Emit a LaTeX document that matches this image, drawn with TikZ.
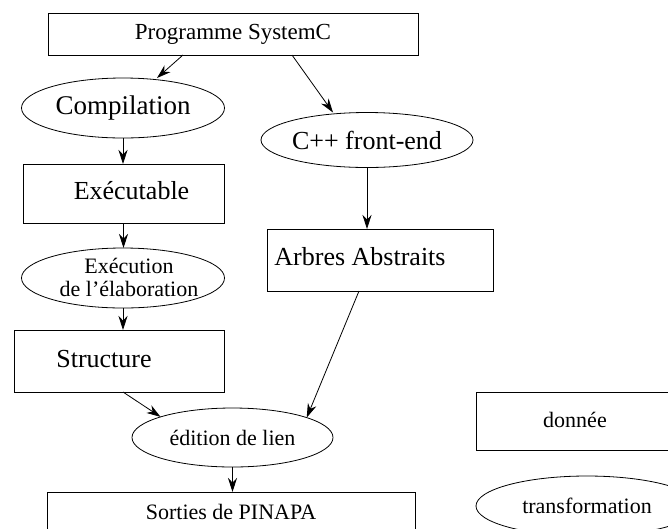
\documentclass[tikz,border=0pt]{standalone}
\usepackage{fontspec}
\setmainfont{Liberation Serif}
\usetikzlibrary{shapes.geometric,arrows.meta}
\begin{document}
\begin{tikzpicture}[x=1pt,y=-1pt,
  every node/.style={inner sep=0pt, outer sep=0pt},
  databox/.style={draw, rectangle, line width=0.8pt},
  process/.style={draw, ellipse, line width=0.8pt},
  fhuge/.style={font=\fontsize{27}{31}\selectfont},
  fbig/.style={font=\fontsize{26}{30}\selectfont},
  fmid/.style={font=\fontsize{23}{26}\selectfont},
  fsmall/.style={font=\fontsize{22}{23}\selectfont},
  arr/.style={line width=0.8pt, -{Stealth[length=14pt,width=9pt,inset=4.5pt]}}]
\useasboundingbox (0,0) rectangle (668,528);

% data (rectangles) and transformations (ellipses)
\node[databox, fmid, minimum width=370pt, minimum height=42pt] (prog) at (233,34) {Programme SystemC};
\node[process, fhuge, minimum width=203pt, minimum height=60pt] (comp) at (123,108) {Compilation};
\node[process, fbig, minimum width=203pt, minimum height=55pt] (cpp) at (367,140) {C++ front-end};
\node[databox, minimum width=201pt, minimum height=59pt,
      label={[fbig, shift={(8,-3)}]center:Exécutable}] (exe) at (123.5,193.5) {};
\node[databox, minimum width=226pt, minimum height=62pt,
      label={[fbig, shift={(-20,-3)}]center:Arbres Abstraits}] (arbres) at (380,260) {};
\node[process, minimum width=203pt, minimum height=60pt,
      label={[fsmall, align=center, shift={(6,-1)}]center:Exécution\\de l’élaboration}] (exel) at (123,278) {};
\node[databox, minimum width=210pt, minimum height=62pt,
      label={[fbig, shift={(-15,-2)}]center:Structure}] (struct) at (119,361) {};
\node[process, fsmall, minimum width=201pt, minimum height=59pt] (edl) at (232.5,437.5) {édition de lien};
\node[databox, minimum width=368pt, minimum height=50pt,
      label={[fsmall, shift={(0,-5)}]center:Sorties de PINAPA}] (sorties) at (231,517) {};

% legend
\node[databox, minimum width=230pt, minimum height=58pt,
      label={[fsmall, shift={(-16,-1)}]center:donnée}] (donnee) at (591,421) {};
\node[process, fsmall, minimum width=222pt, minimum height=60pt] (transf) at (587,506) {transformation};

% flow
\draw[arr] ([xshift=-50pt]prog.south) -- ([xshift=34pt]comp.north);
\draw[arr] ([xshift=59pt]prog.south) -- ([xshift=-34pt]cpp.north);
\draw[arr] (comp.south) -- (comp.south |- exe.north);
\draw[arr] (exe.south) -- (exe.south |- exel.north);
\draw[arr] (exel.south) -- (exel.south |- struct.north);
\draw[arr] (cpp.south) -- (cpp.south |- arbres.north);
\draw[arr] ([xshift=4pt]struct.south) -- (edl.164);
\draw[arr] ([xshift=-21pt]arbres.south) -- (edl.15);
\draw[arr] (edl.south) -- (edl.south |- sorties.north);
\end{tikzpicture}
\end{document}
